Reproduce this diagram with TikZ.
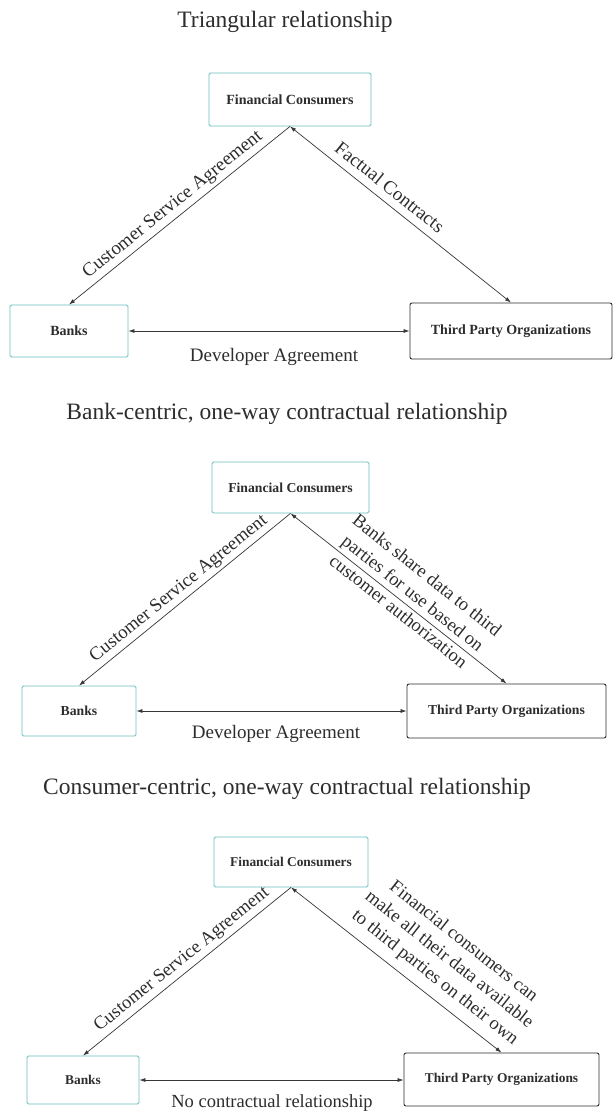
\documentclass[tikz,border=0pt]{standalone}
\usepackage{fontspec}
\setmainfont{Liberation Serif}
\usetikzlibrary{arrows.meta}
\definecolor{tealb}{RGB}{110,190,192}
\definecolor{ink}{RGB}{45,45,45}
\definecolor{lin}{RGB}{55,55,55}
\tikzset{
  title/.style={text=ink, font=\fontsize{23.5}{28}\selectfont, inner sep=0pt},
  tbox/.style={draw=tealb, line width=0.8pt, rounded corners=1.5pt, inner sep=0pt, text=ink, font=\bfseries\fontsize{#1}{16}\selectfont},
  kbox/.style={draw=ink, line width=0.9pt, rounded corners=2pt, inner sep=0pt, text=ink, font=\bfseries\fontsize{#1}{16}\selectfont},
  conn/.style={draw=lin, line width=0.7pt},
  tip/.tip={Latex[length=6pt,width=4pt]},
  lbl/.style={text=ink, font=\fontsize{#1}{23}\selectfont, inner sep=0pt, align=center},
}
\begin{document}
\begin{tikzpicture}[x=1pt,y=-1pt]
\useasboundingbox[fill=white] (0,0) rectangle (613,1111);

% ---------- Panel 1 ----------
\node[title] (t1) at (285,22) {Triangular relationship};
\node[tbox=14, minimum width=162pt, minimum height=53pt] (fc1) at (290,99.5) {Financial Consumers};
\node[tbox=14, minimum width=118pt, minimum height=52pt] (b1) at (69,331) {Banks};
\node[kbox=14, minimum width=202pt, minimum height=56pt] (tp1) at (511,331) {Third Party Organizations};
\draw[conn, -tip] (fc1.south) -- (b1.north);
\draw[conn, tip-tip] (fc1.south) -- (tp1.north);
\draw[conn, tip-tip] (b1.east) -- (b1.east -| tp1.west);
\node[lbl=19] (l1a) at (173,205) [rotate=38.9] {Customer Service Agreement};
\node[lbl=19] (l1b) at (390,187) [rotate=-38.5] {Factual Contracts};
\node[lbl=19] (l1c) at (274,357) {Developer Agreement};

% ---------- Panel 2 ----------
\node[title] (t2) at (287,414) {Bank-centric, one-way contractual relationship};
\node[tbox=13.7, minimum width=157pt, minimum height=51pt] (fc2) at (290.5,487.5) {Financial Consumers};
\node[tbox=13.7, minimum width=114pt, minimum height=50pt] (b2) at (79,711) {Banks};
\node[kbox=13.7, minimum width=199pt, minimum height=54pt] (tp2) at (506.5,711) {Third Party Organizations};
\draw[conn, -tip] (fc2.south) -- (b2.north);
\draw[conn, tip-tip] (fc2.south) -- (tp2.north);
\draw[conn, tip-tip] (b2.east) -- (tp2.west);
\node[lbl=18.8] (l2a) at (179,589) [rotate=39.0] {Customer Service Agreement};
\node[lbl=18.5] (l2b) at (413,593) [rotate=-38.4] {Banks share data to third\\parties for use based on\\customer authorization};
\node[lbl=19] (l2c) at (276,734) {Developer Agreement};

% ---------- Panel 3 ----------
\node[title] (t3) at (287,789) {Consumer-centric, one-way contractual relationship};
\node[tbox=13.4, minimum width=154pt, minimum height=50pt] (fc3) at (291,862) {Financial Consumers};
\node[tbox=13.4, minimum width=112pt, minimum height=48pt] (b3) at (83,1080) {Banks};
\node[kbox=13.4, minimum width=195pt, minimum height=53pt] (tp3) at (501.5,1079.5) {Third Party Organizations};
\draw[conn, -tip] (fc3.south) -- (b3.north);
\draw[conn, tip-tip] (fc3.south) -- (tp3.north);
\draw[conn, tip-tip] (b3.east) -- (b3.east -| tp3.west);
\node[lbl=18.5] (l3a) at (182,960) [rotate=38.9] {Customer Service Agreement};
\node[lbl=18.5] (l3b) at (449,960) [rotate=-38.3] {Financial consumers can\\make all their data available\\to third parties on their own};
\node[lbl=18.5] (l3c) at (272,1103) {No contractual relationship};
\end{tikzpicture}
\end{document}
